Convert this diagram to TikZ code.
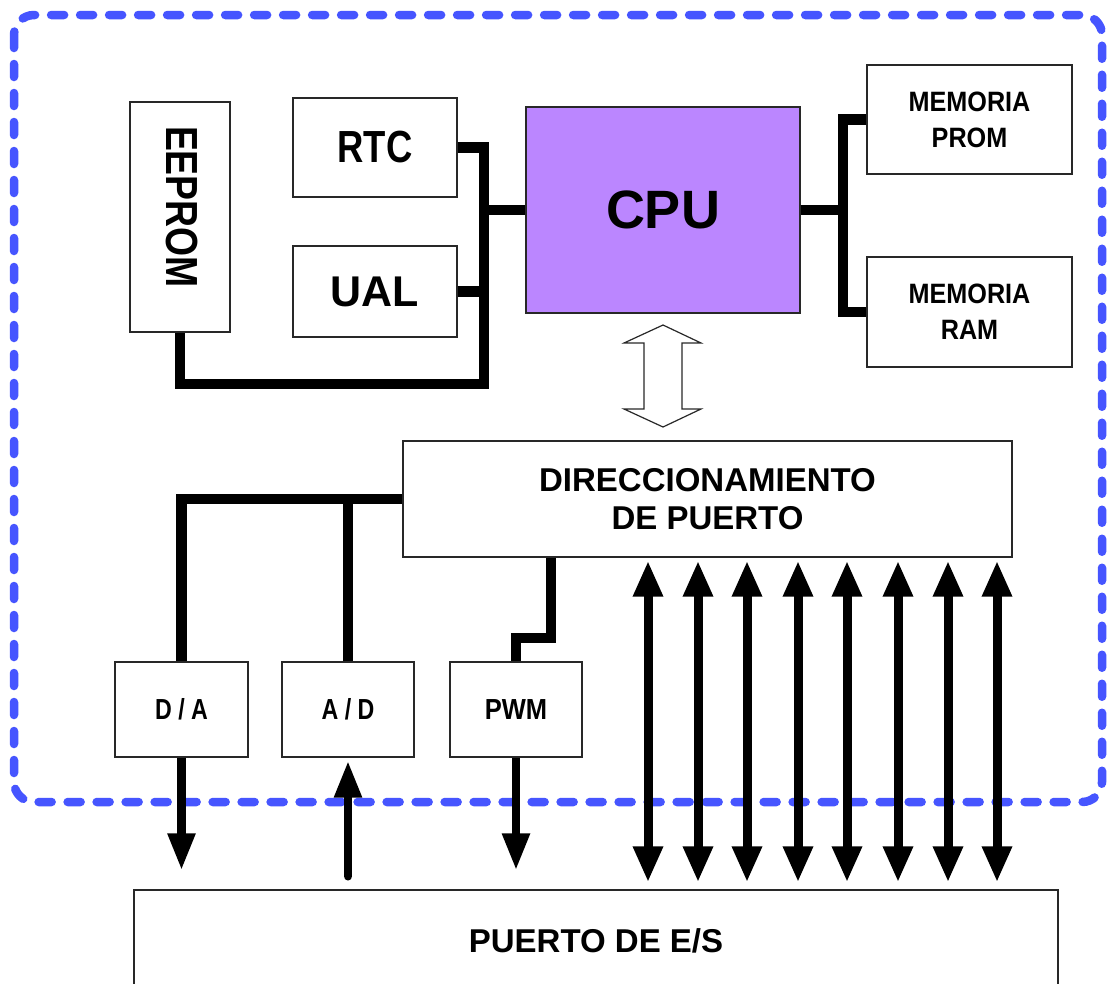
\documentclass[tikz,border=0pt]{standalone}
\usepackage{fontspec}
\usepackage{graphicx}
\setmainfont{Liberation Sans}
\usetikzlibrary{arrows.meta}
\definecolor{dashblue}{RGB}{70,85,255}
\definecolor{cpufill}{RGB}{187,134,255}
\definecolor{boxline}{RGB}{40,40,40}
\newcommand{\hsq}[2]{\scalebox{#1}[1]{#2}}
\begin{document}
\begin{tikzpicture}[x=1pt,y=-1pt,
  box/.style={draw=boxline, line width=1.4pt, fill=white, inner sep=0pt, align=center},
  bus/.style={line width=10.5pt, line join=miter, line cap=butt},
  arr/.style={line width=8.5pt, -{Triangle[length=37pt,width=26pt]}},
  darr/.style={line width=9pt, {Triangle[length=36pt,width=28pt]}-{Triangle[length=36pt,width=28pt]}},
  regbig/.style={font=\bfseries\fontsize{45}{50}\selectfont},
  boldbig/.style={font=\bfseries\fontsize{43}{48}\selectfont},
  cpufont/.style={font=\bfseries\fontsize{54}{60}\selectfont},
  memfont/.style={font=\bfseries\fontsize{28}{36}\selectfont},
  dirfont/.style={font=\bfseries\fontsize{33}{38.5}\selectfont},
  smallfont/.style={font=\bfseries\fontsize{29}{32}\selectfont},
  border/.style={draw=dashblue, line width=8.5pt, dash pattern=on 13pt off 16pt, line cap=round, rounded corners=20pt}
]
\useasboundingbox (0,0) rectangle (1107,983);
\fill[white] (0,0) rectangle (1107,983);
\clip (0,0) rectangle (1107,983);

% dashed border of the microcontroller
\draw[border] (14,15) rectangle (1102,802);

% blocks
\node[box, minimum width=100pt, minimum height=230pt, regbig] (eeprom) at (180,217)
  {\rotatebox{-90}{\raisebox{4pt}{\kern-20pt\hsq{0.83}{EEPROM}}}};
\node[box, minimum width=164pt, minimum height=99pt, regbig] (rtc) at (375,147.5) {\hsq{0.81}{RTC}};
\node[box, minimum width=164pt, minimum height=91pt, boldbig] (ual) at (375,291.5) {UAL};
\node[box, fill=cpufill, minimum width=274pt, minimum height=206pt, cpufont] (cpu) at (663,210) {CPU};
\node[box, minimum width=205pt, minimum height=109pt, memfont] (prom) at (969.5,119.5)
  {\hsq{0.9}{MEMORIA}\\\hsq{0.9}{PROM}};
\node[box, minimum width=205pt, minimum height=110pt, memfont] (ram) at (969.5,312)
  {\hsq{0.9}{MEMORIA}\\\hsq{0.9}{RAM}};
\node[box, minimum width=609pt, minimum height=116pt, dirfont] (dir) at (707.5,499)
  {DIRECCIONAMIENTO\\DE PUERTO};
\node[box, minimum width=133pt, minimum height=95pt, smallfont] (da) at (181.5,709.5) {\hsq{0.8}{D / A}};
\node[box, minimum width=132pt, minimum height=95pt, smallfont] (ad) at (348,709.5) {\hsq{0.8}{A / D}};
\node[box, minimum width=132pt, minimum height=95pt, smallfont] (pwm) at (516,709.5) {\hsq{0.88}{PWM}};
\node[box, minimum width=924pt, minimum height=110pt, dirfont] (puerto) at (596,945)
  {\raisebox{9.5pt}{PUERTO DE E/S}};

% hollow double arrow CPU <-> direccionamiento
\draw[boxline, line width=1.2pt, fill=white]
  (663,325) -- (701,343) -- (682,343) -- (682,409) -- (701,409) -- (663,427)
  -- (624,409) -- (644,409) -- (644,343) -- (624,343) -- cycle;

% internal buses
\coordinate (bl) at (484,384);
\coordinate (br) at (843,209);
\coordinate (pwmk) at (551,638);
\draw[bus] (rtc.east) -| (bl) -| (eeprom.south);
\draw[bus] (ual.east) -- (ual.east -| bl);
\draw[bus] (cpu.west) -- (cpu.west -| bl);
\draw[bus] (prom.west) -- (prom.west -| br) -- (ram.west -| br) -- (ram.west);
\draw[bus] (cpu.east) -- (cpu.east -| br);
\draw[bus] (dir.west) -| (da.north);
\draw[bus] (ad.north) -- (ad.north |- dir.west);
\draw[bus] (dir.south -| pwmk) -- (pwmk) -| (pwm.north);

% arrows to / from the port
\draw[arr, shorten >=19pt] (da.south) -- (da.south |- puerto.north);
\draw[arr, line cap=round, shorten <=13pt, shorten >=3pt] (ad.south |- puerto.north) -- (ad.south);
\draw[arr, shorten >=19pt] (pwm.south) -- (pwm.south |- puerto.north);

\foreach \i/\x in {1/648,2/698,3/747,4/798,5/847,6/898,7/948,8/997}
  \coordinate (c\i) at (\x,700);
\foreach \i in {1,...,8}
  \draw[darr, shorten <=3pt, shorten >=7pt] (c\i |- dir.south) -- (c\i |- puerto.north);
\end{tikzpicture}
\end{document}
